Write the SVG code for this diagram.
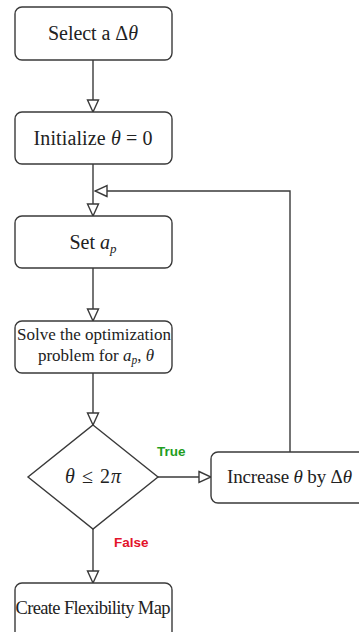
<svg xmlns="http://www.w3.org/2000/svg" width="359" height="632" viewBox="0 0 359 632">
<style>
.box{fill:#fff;stroke:#3a3a3a;stroke-width:1.4}
.t{font-family:"Liberation Serif","Times New Roman",serif;font-size:20px;fill:#222;text-anchor:middle}
.m{font-style:italic}
.c{fill:none;stroke:#3a3a3a;stroke-width:1.4}
.lbl{font-family:"Liberation Sans",Arial,sans-serif;font-weight:bold;font-size:13.5px}
</style>
<defs>
<marker id="ah" viewBox="0 0 14 14" refX="13" refY="7" markerWidth="14" markerHeight="14" markerUnits="userSpaceOnUse" orient="auto">
<path d="M1,1.5 L13,7 L1,12.5 Z" fill="#fff" stroke="#3a3a3a" stroke-width="1.4"/>
</marker>
</defs>
<g id="connectors">
<line class="c" x1="93" y1="60" x2="93" y2="112" marker-end="url(#ah)"/>
<line class="c" x1="93" y1="164" x2="93" y2="216" marker-end="url(#ah)"/>
<line class="c" x1="93" y1="268" x2="93" y2="321" marker-end="url(#ah)"/>
<line class="c" x1="93" y1="373" x2="93" y2="425" marker-end="url(#ah)"/>
<line class="c" x1="158" y1="477" x2="211" y2="477" marker-end="url(#ah)"/>
<line class="c" x1="93" y1="529" x2="93" y2="583" marker-end="url(#ah)"/>
<polyline class="c" points="290,452 290,191 95,191" marker-end="url(#ah)"/>
<text class="lbl" x="157" y="456" fill="#1f9e1f">True</text>
<text class="lbl" x="114" y="547" fill="#e3132a">False</text>
</g>
<g id="select">
<rect class="box" x="15" y="7" width="157" height="53" rx="7"/>
<text class="t" x="93" y="40" textLength="90">Select a Δ<tspan class="m">θ</tspan></text>
</g>
<g id="init">
<rect class="box" x="15" y="112" width="157" height="52" rx="7"/>
<text class="t" x="93" y="145" textLength="119">Initialize <tspan class="m">θ</tspan> = 0</text>
</g>
<g id="setap">
<rect class="box" x="15" y="216" width="157" height="52" rx="7"/>
<text class="t" x="93" y="249">Set <tspan class="m">a</tspan><tspan class="m" font-size="13" dy="4">p</tspan></text>
</g>
<g id="solve">
<rect class="box" x="15" y="321" width="157" height="52" rx="7"/>
<text class="t" x="94" y="340" style="font-size:17px" textLength="154">Solve the optimization</text>
<text class="t" x="96" y="361" style="font-size:17px">problem for <tspan class="m">a</tspan><tspan class="m" font-size="11.5" dy="3">p</tspan><tspan dy="-3">, </tspan><tspan class="m">θ</tspan></text>
</g>
<g id="decision">
<polygon class="box" points="93,425 158,477 93,529 28,477"/>
<text class="t" x="93" y="483" textLength="56"><tspan class="m">θ</tspan> ≤ 2<tspan class="m">π</tspan></text>
</g>
<g id="increase">
<rect class="box" x="211" y="452" width="160" height="51" rx="7"/>
<text class="t" x="289.5" y="483" style="font-size:19px" textLength="125">Increase <tspan class="m">θ</tspan> by Δ<tspan class="m">θ</tspan></text>
</g>
<g id="create">
<rect class="box" x="15" y="583" width="157" height="60" rx="7"/>
<text class="t" x="93" y="614" style="font-size:18.5px" textLength="155">Create Flexibility Map</text>
</g>
</svg>
